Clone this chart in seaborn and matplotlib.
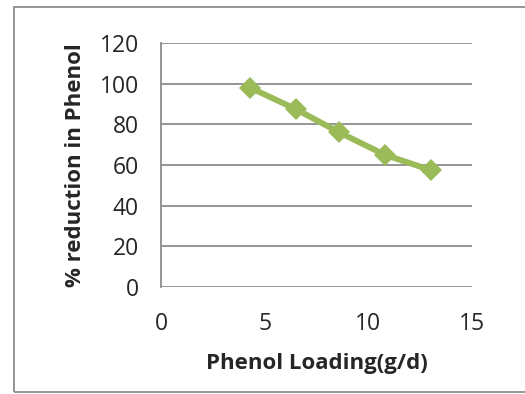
import matplotlib
matplotlib.use("Agg")
import matplotlib.pyplot as plt
import seaborn as sns
import pandas as pd
from matplotlib.patches import Rectangle

loading = [4.3, 6.5, 8.6, 10.8, 13.0]
reduction = [98, 87.5, 76, 65, 57.5]
x_ticks = [0, 5, 10, 15]
y_ticks = [0, 20, 40, 60, 80, 100, 120]

sns.set_style("white")
plt.rcParams['font.family'] = ['Open Sans', 'DejaVu Sans']

df = pd.DataFrame({"loading": loading, "reduction": reduction})

fig = plt.figure(figsize=(5.25, 3.94), dpi=100)
ax = fig.add_axes([161/525, 1-287/394, (472-161)/525, (287-43)/394])

sns.lineplot(data=df, x="loading", y="reduction", ax=ax, color="#9BBB59",
             linewidth=4.3, marker="D", markersize=11.5, markeredgewidth=0)

ax.set_xlim(0, 15)
ax.set_ylim(0, 120)
ax.set_xticks(x_ticks)
ax.set_yticks(y_ticks)
ax.yaxis.grid(True, color="#8c8c8c", linewidth=1.3)
ax.xaxis.grid(False)
for s in ["top", "right", "bottom"]:
    ax.spines[s].set_visible(False)
ax.spines["left"].set_color("#8c8c8c")
ax.spines["left"].set_linewidth(1.3)
ax.tick_params(axis="x", length=0, pad=18, labelsize=16.5)
ax.tick_params(axis="y", length=0, pad=16, labelsize=16.5)
ax.set_xlabel("Phenol Loading(g/d)", fontsize=16, fontweight="bold")
ax.set_ylabel("% reduction in Phenol", fontsize=16, fontweight="bold")
ax.xaxis.set_label_coords(0.5, -0.27)
ax.yaxis.set_label_coords(-0.24, 0.5)

fig.patches.append(Rectangle((13.5/525, 2/394), (530-13.5)/525, 385/394,
                             transform=fig.transFigure, fill=False,
                             edgecolor="#8c8c8c", linewidth=1.3))

fig.savefig("out.png", dpi=100)
